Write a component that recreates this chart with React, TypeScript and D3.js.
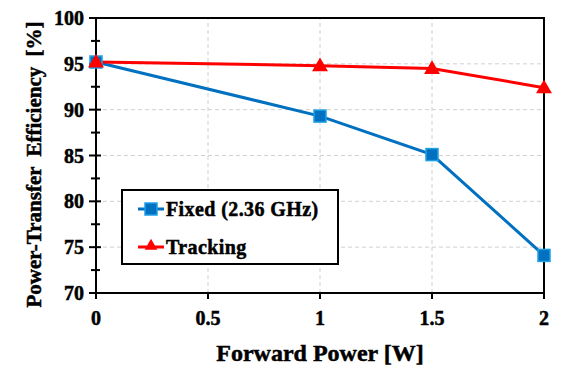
import React from "react";
import * as d3 from "d3";

const powers = [0, 1, 1.5, 2];
const fixedEff = [95.2, 89.3, 85.1, 74.1];
const trackingEff = [95.2, 94.8, 94.5, 92.4];
const xTicks = [0, 0.5, 1, 1.5, 2];
const xTickLabels = ["0", "0.5", "1", "1.5", "2"];
const yTicks = [70, 75, 80, 85, 90, 95, 100];
const yMinorTicks = [72.5, 77.5, 82.5, 87.5, 92.5, 97.5];
const seriesNames = ["Fixed (2.36 GHz)", "Tracking"];

const W = 564, H = 377;
const m = { left: 96, right: 20, top: 18, bottom: 84 };
const FONT = "Liberation Serif";
const ts: React.CSSProperties = { fontFamily: FONT, fontWeight: 700 };

export default function App() {
  const x = d3.scaleLinear().domain([0, 2]).range([m.left, W - m.right]);
  const y = d3.scaleLinear().domain([70, 100]).range([H - m.bottom, m.top]);
  const line = d3.line<[number, number]>().x(d => x(d[0])).y(d => y(d[1]));
  const fixedPts = powers.map((p, i) => [p, fixedEff[i]] as [number, number]);
  const trackPts = powers.map((p, i) => [p, trackingEff[i]] as [number, number]);
  const tri = d3.symbol().type(d3.symbolTriangle).size(110)();
  const triSmall = d3.symbol().type(d3.symbolTriangle).size(70)();
  const x0 = x(0), x1 = x(2), y0 = y(70), y1 = y(100);
  const blue = "#0070C0", red = "#FF0000";

  const legX = 122, legY = 190, legW = 216, legH = 74;
  const sw = 0.5;

  return (
    <svg width={W} height={H} style={{ position: "absolute", left: 0, top: 0 }}>
      <rect width={W} height={H} fill="#fff" />
      {yTicks.filter(t => t > 70 && t < 100).map(t => (
        <line key={"gy" + t} x1={x0} x2={x1} y1={y(t)} y2={y(t)} stroke="#d0d0d0" strokeDasharray="4,3" strokeWidth={1} />
      ))}
      {xTicks.filter(t => t > 0 && t < 2).map(t => (
        <line key={"gx" + t} x1={x(t)} x2={x(t)} y1={y0} y2={y1} stroke="#d0d0d0" strokeDasharray="4,3" strokeWidth={1} />
      ))}
      <rect x={x0} y={y1} width={x1 - x0} height={y0 - y1} fill="none" stroke="#000" strokeWidth={2} />
      {yTicks.map(t => (
        <line key={"ty" + t} x1={x0 - 7} x2={x0 + 5} y1={y(t)} y2={y(t)} stroke="#000" strokeWidth={2} />
      ))}
      {yMinorTicks.map(t => (
        <line key={"tm" + t} x1={x0 - 5} x2={x0 + 4} y1={y(t)} y2={y(t)} stroke="#000" strokeWidth={2} />
      ))}
      {yTicks.map(t => (
        <text key={"ly" + t} x={x0 - 12} y={y(t)} dy="0.35em" textAnchor="end" fontSize={20} stroke="#000" strokeWidth={sw} style={ts}>{t}</text>
      ))}
      {xTicks.map(t => (
        <line key={"tx" + t} x1={x(t)} x2={x(t)} y1={y0} y2={y0 + 6} stroke="#000" strokeWidth={2} />
      ))}
      {xTicks.map((t, i) => (
        <text key={"lx" + t} x={x(t)} y={y0 + 32} textAnchor="middle" fontSize={20} stroke="#000" strokeWidth={sw} style={ts}>{xTickLabels[i]}</text>
      ))}
      <text x={(x0 + x1) / 2} y={y0 + 68} textAnchor="middle" fontSize={24} stroke="#000" strokeWidth={sw} style={ts}>Forward Power [W]</text>
      <text transform={`translate(41,${(y0 + y1) / 2 + 9}) rotate(-90)`} textAnchor="middle" fontSize={21} wordSpacing="5" stroke="#000" strokeWidth={sw} style={ts}>Power-Transfer Efficiency [%]</text>
      <path d={line(fixedPts) || ""} fill="none" stroke={blue} strokeWidth={3} />
      <path d={line(trackPts) || ""} fill="none" stroke={red} strokeWidth={3} />
      {fixedPts.map((p, i) => (
        <rect key={"fm" + i} x={x(p[0]) - 6} y={y(p[1]) - 6} width={12} height={12} fill={blue} stroke="#1EA0E6" strokeWidth={1.5} />
      ))}
      {trackPts.map((p, i) => (
        <path key={"tm" + i} d={tri || ""} transform={`translate(${x(p[0])},${y(p[1]) + 1})`} fill={red} />
      ))}
      <rect x={legX} y={legY} width={legW} height={legH} fill="#fff" stroke="#000" strokeWidth={2} />
      <line x1={138} x2={164} y1={209} y2={209} stroke={blue} strokeWidth={3} />
      <rect x={145} y={203} width={12} height={12} fill={blue} stroke="#1EA0E6" strokeWidth={1.5} />
      <text x={166} y={209} dy="0.35em" fontSize={20} letterSpacing="0.4" stroke="#000" strokeWidth={sw} style={ts}>{seriesNames[0]}</text>
      <line x1={138} x2={164} y1={247} y2={247} stroke={red} strokeWidth={3} />
      <path d={triSmall || ""} transform="translate(151,246)" fill={red} />
      <text x={166} y={247} dy="0.35em" fontSize={20} letterSpacing="0.4" stroke="#000" strokeWidth={sw} style={ts}>{seriesNames[1]}</text>
    </svg>
  );
}
